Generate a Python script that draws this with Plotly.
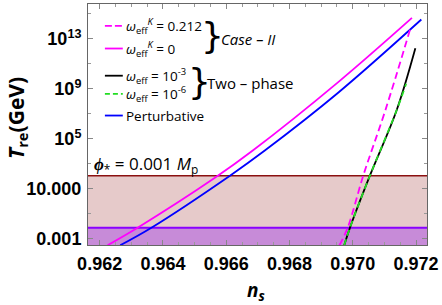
import numpy as np
import plotly.graph_objects as go

# ---------------- data ----------------
ns_caseII_k0212 = [0.96958, 0.96984, 0.970333, 0.971025, 0.971824]
T_caseII_k0212 = [10**-3.5, 10**-2.09, 10**2.08, 10**7.25, 10**13.85]

ns_caseII_k0 = [0.96225, 0.96320, 0.96562, 0.96684, 0.96955, 0.97187]
T_caseII_k0 = [10**-3.5, 10**-2.10, 10**1.85, 10**4.07, 10**9.56, 10**14.67]

ns_two_1e3 = [0.96973, 0.969915, 0.970544, 0.971381, 0.971978]
T_two_1e3 = [10**-3.5, 10**-2.07, 10**2.08, 10**7.25, 10**12.24]

ns_two_1e6 = [0.96973, 0.969915, 0.970544, 0.971381, 0.971686]
T_two_1e6 = [10**-3.5, 10**-2.07, 10**2.08, 10**7.25, 10**9.40]

ns_pert = [0.96265, 0.963635, 0.966119, 0.96722, 0.969547, 0.972167]
T_pert = [10**-3.5, 10**-2.10, 10**2.06, 10**4.07, 10**8.71, 10**14.54]

T_upper_band = 10**2.05   # dark red line
T_lower_band = 10**-2.1   # purple line

x_ticks = [0.962, 0.964, 0.966, 0.968, 0.970, 0.972]
x_ticktext = ["0.962", "0.964", "0.966", "0.968", "0.970", "0.972"]
y_ticks = [1e-3, 1e1, 1e5, 1e9, 1e13]
y_ticktext = ["0.001", "10.000", "10<sup>5</sup>", "10<sup>9</sup>", "10<sup>13</sup>"]
y_minor = [1e-1, 1e3, 1e7, 1e11, 1e15]

X_RANGE = [0.961632, 0.972346]
Y_RANGE_LOG = [-3.48, 15.78]

# ---------------- figure ----------------
W, H = 442, 305
L, R, T, B = 88, 13, 3, 60
PW, PH = W - L - R, H - T - B


def px(xp):
    return (xp - L) / PW


def py(yp):
    return (H - B - yp) / PH


fig = go.Figure()
y_bottom = 10 ** Y_RANGE_LOG[0]

# bands
fig.add_trace(go.Scatter(
    x=[X_RANGE[0], X_RANGE[1], X_RANGE[1], X_RANGE[0]],
    y=[T_lower_band, T_lower_band, T_upper_band, T_upper_band],
    fill="toself", fillcolor="#E6CACA", line=dict(width=0), mode="lines",
    hoverinfo="skip", showlegend=False))
fig.add_trace(go.Scatter(
    x=[X_RANGE[0], X_RANGE[1], X_RANGE[1], X_RANGE[0]],
    y=[y_bottom, y_bottom, T_lower_band, T_lower_band],
    fill="toself", fillcolor="#C78BD8", line=dict(width=0), mode="lines",
    hoverinfo="skip", showlegend=False))
fig.add_trace(go.Scatter(x=X_RANGE, y=[T_upper_band, T_upper_band], mode="lines",
                         line=dict(color="#8B1010", width=1.6), showlegend=False))
fig.add_trace(go.Scatter(x=X_RANGE, y=[T_lower_band, T_lower_band], mode="lines",
                         line=dict(color="#8A00FF", width=1.8), showlegend=False))

# curves
fig.add_trace(go.Scatter(x=ns_pert, y=T_pert, mode="lines",
                         line=dict(color="#0000FF", width=1.8, shape="spline"), showlegend=False))
fig.add_trace(go.Scatter(x=ns_caseII_k0, y=T_caseII_k0, mode="lines",
                         line=dict(color="#FF00FF", width=1.8, shape="spline"), showlegend=False))
fig.add_trace(go.Scatter(x=ns_two_1e3, y=T_two_1e3, mode="lines",
                         line=dict(color="#000000", width=1.8, shape="spline"), showlegend=False))
fig.add_trace(go.Scatter(x=ns_two_1e6, y=T_two_1e6, mode="lines",
                         line=dict(color="#22DD22", width=1.8, dash="6px,4px", shape="spline"), showlegend=False))
fig.add_trace(go.Scatter(x=ns_caseII_k0212, y=T_caseII_k0212, mode="lines",
                         line=dict(color="#FF00FF", width=1.8, dash="7px,4px", shape="spline"), showlegend=False))

# ---------------- manual legend ----------------
leg_font = dict(family="Open Sans", size=13.5, color="black")
legend_items = [
    ("#FF00FF", "7px,3px", 25, "<i>ω</i><sub>eff</sub><sup><i>K</i></sup> = 0.212"),
    ("#FF00FF", "solid", 47.7, "<i>ω</i><sub>eff</sub><sup><i>K</i></sup> = 0"),
    ("#000000", "solid", 75, "<i>ω</i><sub>eff</sub> = 10<sup>-3</sup>"),
    ("#22DD22", "5px,3px", 93.3, "<i>ω</i><sub>eff</sub> = 10<sup>-6</sup>"),
    ("#0000FF", "solid", 115, "Perturbative"),
]
shapes = []
annotations = []
for color, dash, yy, text in legend_items:
    shapes.append(dict(type="line", xref="paper", yref="paper",
                       x0=px(105), x1=px(123), y0=py(yy), y1=py(yy),
                       line=dict(color=color, width=1.8, dash=dash)))
    annotations.append(dict(xref="paper", yref="paper", x=px(124), y=py(yy),
                            xanchor="left", yanchor="middle", showarrow=False,
                            text=text, font=leg_font))

brace_font = dict(family="DejaVu Sans", size=36, color="black")
annotations.append(dict(xref="paper", yref="paper", x=px(213), y=py(35),
                        xanchor="center", yanchor="middle", showarrow=False,
                        text="}", font=brace_font))
annotations.append(dict(xref="paper", yref="paper", x=px(200), y=py(81),
                        xanchor="center", yanchor="middle", showarrow=False,
                        text="}", font=brace_font))
annotations.append(dict(xref="paper", yref="paper", x=px(220), y=py(38),
                        xanchor="left", yanchor="middle", showarrow=False,
                        text="<i>Case – II</i>", font=dict(family="Open Sans", size=15, color="black")))
annotations.append(dict(xref="paper", yref="paper", x=px(206), y=py(82),
                        xanchor="left", yanchor="middle", showarrow=False,
                        text="Two – phase", font=dict(family="Open Sans", size=15, color="black")))
annotations.append(dict(xref="paper", yref="paper", x=px(92), y=py(164),
                        xanchor="left", yanchor="middle", showarrow=False,
                        text="<b><i>ϕ</i></b><sub>*</sub> = 0.001 <i>M</i><sub>p</sub>",
                        font=dict(family="Open Sans", size=17, color="black")))
# axis titles
annotations.append(dict(xref="paper", yref="paper", x=px(16), y=py(117),
                        xanchor="center", yanchor="middle", showarrow=False, textangle=-90,
                        text="<b><i>T</i></b><sub><b>re</b></sub><b>(GeV)</b>",
                        font=dict(family="Open Sans", size=21, color="black")))
annotations.append(dict(xref="paper", yref="paper", x=px(257), y=py(291),
                        xanchor="center", yanchor="middle", showarrow=False,
                        text="<b><i>n</i></b><sub><b><i>s</i></b></sub>",
                        font=dict(family="Open Sans", size=19, color="black")))

axis_common = dict(showgrid=False, zeroline=False, showline=True, linecolor="#666666",
                   linewidth=1, mirror="ticks", ticks="inside", ticklen=5,
                   tickcolor="#888888", tickwidth=1,
                   tickfont=dict(family="Liberation Sans", size=18, color="black", weight="bold"))

fig.update_layout(
    width=W, height=H, margin=dict(l=L, r=R, t=T, b=B),
    paper_bgcolor="white", plot_bgcolor="white",
    showlegend=False, shapes=shapes, annotations=annotations,
    xaxis=dict(range=X_RANGE, tickmode="array", tickvals=x_ticks, ticktext=x_ticktext,
               minor=dict(dtick=0.0005, tick0=0.962, ticks="inside", ticklen=3, tickcolor="#999999"),
               ticklabelstandoff=2, **axis_common),
    yaxis=dict(type="log", range=Y_RANGE_LOG, tickmode="array", tickvals=y_ticks, ticktext=y_ticktext,
               minor=dict(tickmode="array", tickvals=y_minor, ticks="inside", ticklen=3, tickcolor="#999999"),
               ticklabelstandoff=2, **axis_common),
)

fig.write_html("out.html", config={"displayModeBar": False},
               post_script="document.body.style.margin='0px';document.body.style.padding='0px';")
